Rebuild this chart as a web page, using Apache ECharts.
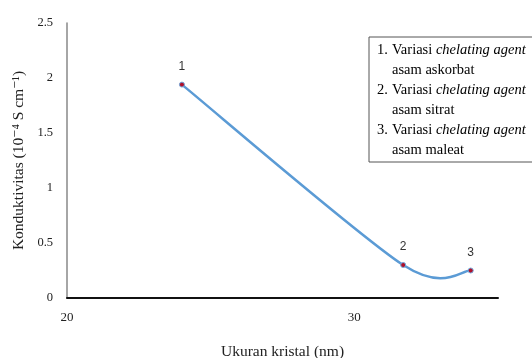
<!DOCTYPE html>
<html>
<head>
<meta charset="utf-8">
<style>
  html, body { margin: 0; padding: 0; background: #fff; }
  #chart { width: 532px; height: 358px; }
</style>
<script src="https://cdn.jsdelivr.net/npm/echarts@6/dist/echarts.min.js"></script>
</head>
<body>
<div id="chart"></div>
<script>
// Crystal size (nm) against conductivity (10^-4 S cm^-1)
const crystalSize = [24.0, 31.7, 34.05];
const conductivity = [1.94, 0.30, 0.25];
const pointLabels = ['1', '2', '3'];
const xTicks = [20, 30];
const yTicks = [0, 0.5, 1, 1.5, 2, 2.5];
const legendLines = [
  ['1.', 'Variasi ', 'chelating agent'],
  ['', 'asam askorbat', ''],
  ['2.', 'Variasi ', 'chelating agent'],
  ['', 'asam sitrat', ''],
  ['3.', 'Variasi ', 'chelating agent'],
  ['', 'asam maleat', '']
];

const serif = '"Liberation Serif", "DejaVu Serif", serif';
const points = crystalSize.map((x, i) => ({ value: [x, conductivity[i]], name: pointLabels[i] }));

const legendText = legendLines.map(l => {
  const head = l[0] ? '{n|' + l[0] + '}' : '{n| }';
  const body = '{r|' + l[1] + '}' + (l[2] ? '{i|' + l[2] + '}' : '');
  return head + body;
}).join('\n');

// Smoothed connector (Catmull-Rom style cubic Bezier) built in pixel space
function renderCurve(params, api) {
  const px = crystalSize.map((x, i) => api.coord([x, conductivity[i]]));
  const n = px.length;
  const k = 7;
  let d = 'M' + px[0][0] + ' ' + px[0][1];
  for (let i = 0; i < n - 1; i++) {
    const p0 = px[Math.max(i - 1, 0)];
    const p1 = px[i];
    const p2 = px[i + 1];
    const p3 = px[Math.min(i + 2, n - 1)];
    const c1 = [p1[0] + (p2[0] - p0[0]) / k, p1[1] + (p2[1] - p0[1]) / k];
    const c2 = [p2[0] - (p3[0] - p1[0]) / k, p2[1] - (p3[1] - p1[1]) / k];
    d += ' C' + c1[0] + ' ' + c1[1] + ' ' + c2[0] + ' ' + c2[1] + ' ' + p2[0] + ' ' + p2[1];
  }
  return {
    type: 'path',
    shape: { pathData: d },
    style: { fill: null, stroke: '#5b9bd5', lineWidth: 2.5, lineCap: 'round' }
  };
}

const chart = echarts.init(document.getElementById('chart'), null, { renderer: 'canvas' });
chart.setOption({
  animation: false,
  grid: { left: 67, top: 23, right: 34, bottom: 60, containLabel: false, outerBoundsMode: 'none' },
  xAxis: {
    type: 'value',
    min: xTicks[0],
    max: 35,
    interval: xTicks[1] - xTicks[0],
    name: 'Ukuran kristal (nm)',
    nameLocation: 'middle',
    nameGap: 46,
    nameTextStyle: { fontFamily: serif, fontSize: 15.5, color: '#222' },
    axisLine: { lineStyle: { color: '#111', width: 2 } },
    axisTick: { show: false },
    splitLine: { show: false },
    axisLabel: { fontFamily: serif, fontSize: 13, color: '#222', margin: 13, showMaxLabel: false }
  },
  yAxis: {
    type: 'value',
    min: yTicks[0],
    max: yTicks[yTicks.length - 1],
    interval: yTicks[1] - yTicks[0],
    name: 'Konduktivitas (10\u207B\u2074 S cm\u207B\u00B9)',
    nameLocation: 'middle',
    nameGap: 39,
    nameTextStyle: { fontFamily: serif, fontSize: 15.5, color: '#222' },
    axisLine: { show: true, lineStyle: { color: '#888', width: 1.5 } },
    axisTick: { show: false },
    splitLine: { show: false },
    axisLabel: { fontFamily: serif, fontSize: 12.5, color: '#222', margin: 14 }
  },
  series: [
    {
      type: 'custom',
      data: [0],
      renderItem: renderCurve,
      silent: true,
      z: 2
    },
    {
      type: 'scatter',
      data: points,
      symbol: 'circle',
      symbolSize: 5,
      z: 3,
      itemStyle: { color: '#b0102a', borderColor: '#6fa8dc', borderWidth: 1, opacity: 1 },
      label: {
        show: true,
        position: 'top',
        distance: 9,
        formatter: p => p.name,
        fontFamily: '"Liberation Sans", "DejaVu Sans", sans-serif',
        fontSize: 12,
        color: '#333'
      }
    }
  ],
  graphic: [
    {
      type: 'rect',
      shape: { x: 369, y: 37, width: 180, height: 125 },
      style: { fill: '#fff', stroke: '#555', lineWidth: 1 }
    },
    {
      type: 'text',
      left: 377,
      top: 40,
      style: {
        text: legendText,
        lineHeight: 20,
        rich: {
          n: { fontFamily: serif, fontSize: 14.5, color: '#222', width: 15, lineHeight: 20 },
          r: { fontFamily: serif, fontSize: 14.5, color: '#222', lineHeight: 20 },
          i: { fontFamily: serif, fontSize: 14.5, fontStyle: 'italic', color: '#222', lineHeight: 20 }
        }
      }
    }
  ]
});
</script>
</body>
</html>
